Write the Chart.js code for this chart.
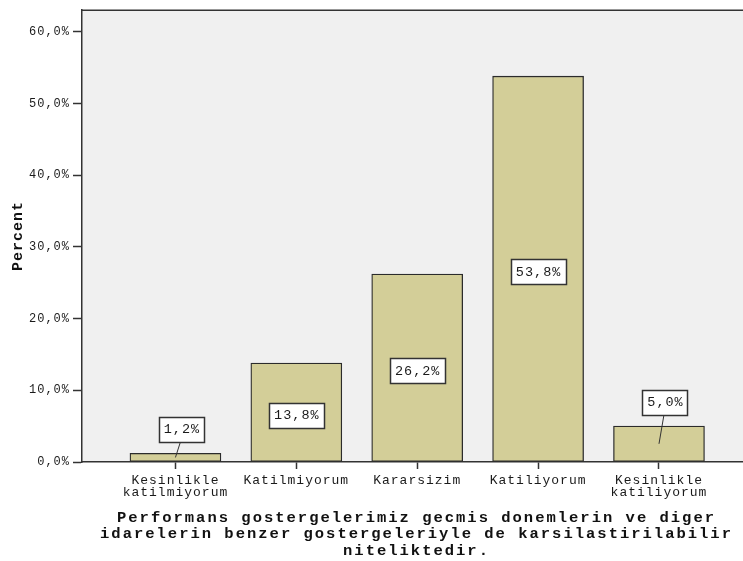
<!DOCTYPE html>
<html lang="tr">
<head>
    <meta charset="UTF-8">
    <title>Performans gostergeleri</title>
    <script src="https://cdn.jsdelivr.net/npm/chart.js"></script>
    <style>
        html, body { margin: 0; padding: 0; background: #ffffff; }
        canvas { display: block; }
    </style>
</head>
<body>
    <canvas id="myChart" width="743" height="561"></canvas>

    <script>
        // Answer categories (x axis), two lines each
        const categories = [
            ['Kesinlikle', 'katilmiyorum'],
            ['Katilmiyorum'],
            ['Kararsizim'],
            ['Katiliyorum'],
            ['Kesinlikle', 'katiliyorum']
        ];
        // Percent of respondents per answer
        const percents = [1.2, 13.8, 26.2, 53.8, 5.0];
        // Y axis tick values
        const yTicks = [0, 10, 20, 30, 40, 50, 60];

        const xTitle = [
            'Performans gostergelerimiz gecmis donemlerin ve diger',
            'idarelerin benzer gostergeleriyle de karsilastirilabilir',
            'niteliktedir.'
        ];

        const fmt = v => v.toFixed(1).replace('.', ',') + '%';
        const MONO = '"Liberation Mono", "Courier New", monospace';

        // grey plot background, frame line on top, spaced lettering for axis text
        const plotFrame = {
            id: 'plotFrame',
            beforeDraw(chart) {
                const { ctx, chartArea: a } = chart;
                ctx.save();
                ctx.fillStyle = '#f0f0f0';
                ctx.fillRect(a.left, a.top, a.right - a.left, a.bottom - a.top);
                ctx.strokeStyle = '#333333';
                ctx.lineWidth = 1.5;
                ctx.beginPath();
                ctx.moveTo(a.left, a.top);
                ctx.lineTo(a.right, a.top);
                ctx.stroke();
                ctx.restore();
                ctx.letterSpacing = '1px';
            },
            afterDraw(chart) {
                const { ctx, chartArea: a } = chart;
                ctx.save();
                // wide-spaced bold x axis title under the tick labels
                ctx.letterSpacing = '2px';
                ctx.font = 'bold 15.5px ' + MONO;
                ctx.fillStyle = '#111111';
                ctx.textAlign = 'center';
                ctx.textBaseline = 'middle';
                xTitle.forEach((line, i) => {
                    ctx.fillText(line, (a.left + a.right) / 2 + 4, a.bottom + 56 + i * 16.5);
                });
                ctx.restore();
                ctx.letterSpacing = '0px';
            }
        };

        // boxed value labels, with a leader line for short bars
        const valueBoxes = {
            id: 'valueBoxes',
            afterDatasetsDraw(chart) {
                const { ctx } = chart;
                const meta = chart.getDatasetMeta(0);
                ctx.save();
                ctx.letterSpacing = '1px';
                ctx.font = '13.5px ' + MONO;
                ctx.textAlign = 'center';
                ctx.textBaseline = 'middle';
                meta.data.forEach((bar, i) => {
                    const text = fmt(percents[i]);
                    const w = Math.round(ctx.measureText(text).width) + 9;
                    const h = 25;
                    const mid = (bar.y + bar.base) / 2;
                    let cx = bar.x, cy;
                    if (bar.base - bar.y > 50) {
                        cy = mid + 3;
                    } else {
                        cx = bar.x + 6;
                        cy = bar.y - 24;
                        ctx.strokeStyle = '#333333';
                        ctx.lineWidth = 1;
                        ctx.beginPath();
                        ctx.moveTo(cx - 1, cy + h / 2);
                        ctx.lineTo(bar.x, mid);
                        ctx.stroke();
                    }
                    const x0 = Math.round(cx - w / 2) + 0.5;
                    const y0 = Math.round(cy - h / 2) + 0.5;
                    ctx.fillStyle = '#ffffff';
                    ctx.fillRect(x0, y0, w, h);
                    ctx.strokeStyle = '#333333';
                    ctx.lineWidth = 1.5;
                    ctx.strokeRect(x0, y0, w, h);
                    ctx.fillStyle = '#1a1a1a';
                    ctx.fillText(text, cx + 0.5, cy + 0.5);
                });
                ctx.restore();
            }
        };

        const ctx = document.getElementById('myChart').getContext('2d');
        const myChart = new Chart(ctx, {
            type: 'bar',
            data: {
                datasets: [{
                    label: 'Percent',
                    data: percents.map((p, i) => ({ x: i, y: p })),
                    backgroundColor: '#d3ce98',
                    borderColor: '#2b2b2b',
                    borderWidth: 1.3,
                    borderSkipped: false,
                    barThickness: 91
                }]
            },
            options: {
                responsive: false,
                devicePixelRatio: 1,
                animation: false,
                layout: { padding: { top: 10, left: 0, right: 0, bottom: 0 } },
                plugins: {
                    legend: { display: false },
                    tooltip: { enabled: false }
                },
                scales: {
                    x: {
                        type: 'linear',
                        offset: false,
                        min: -0.773,
                        max: 4.695,
                        afterBuildTicks: axis => {
                            axis.ticks = categories.map((c, i) => ({ value: i }));
                        },
                        afterFit: axis => { axis.height = 99; },
                        grid: {
                            offset: false,
                            drawOnChartArea: false,
                            drawTicks: true,
                            tickLength: 7,
                            tickColor: '#333333',
                            tickWidth: 1.5
                        },
                        border: { display: true, color: '#333333', width: 1.5 },
                        ticks: {
                            autoSkip: false,
                            maxRotation: 0,
                            padding: 5,
                            color: '#1a1a1a',
                            font: { family: MONO, size: 13, lineHeight: 0.95 },
                            callback: v => categories[v]
                        },
                        title: { display: false }
                    },
                    y: {
                        min: 0,
                        max: 63,
                        afterBuildTicks: axis => {
                            axis.ticks = yTicks.map(v => ({ value: v }));
                        },
                        afterFit: axis => { axis.width = 82; },
                        grid: {
                            drawOnChartArea: false,
                            drawTicks: true,
                            tickLength: 9,
                            tickColor: '#333333',
                            tickWidth: 1.5
                        },
                        border: { display: true, color: '#333333', width: 1.5 },
                        ticks: {
                            padding: 3,
                            color: '#1a1a1a',
                            font: { family: MONO, size: 12 },
                            callback: v => fmt(v)
                        },
                        title: {
                            display: true,
                            text: 'Percent',
                            color: '#111111',
                            padding: { top: 9, bottom: 0 },
                            font: { family: MONO, size: 15, weight: 'bold', lineHeight: 1.2 }
                        }
                    }
                }
            },
            plugins: [plotFrame, valueBoxes]
        });
    </script>
</body>
</html>
